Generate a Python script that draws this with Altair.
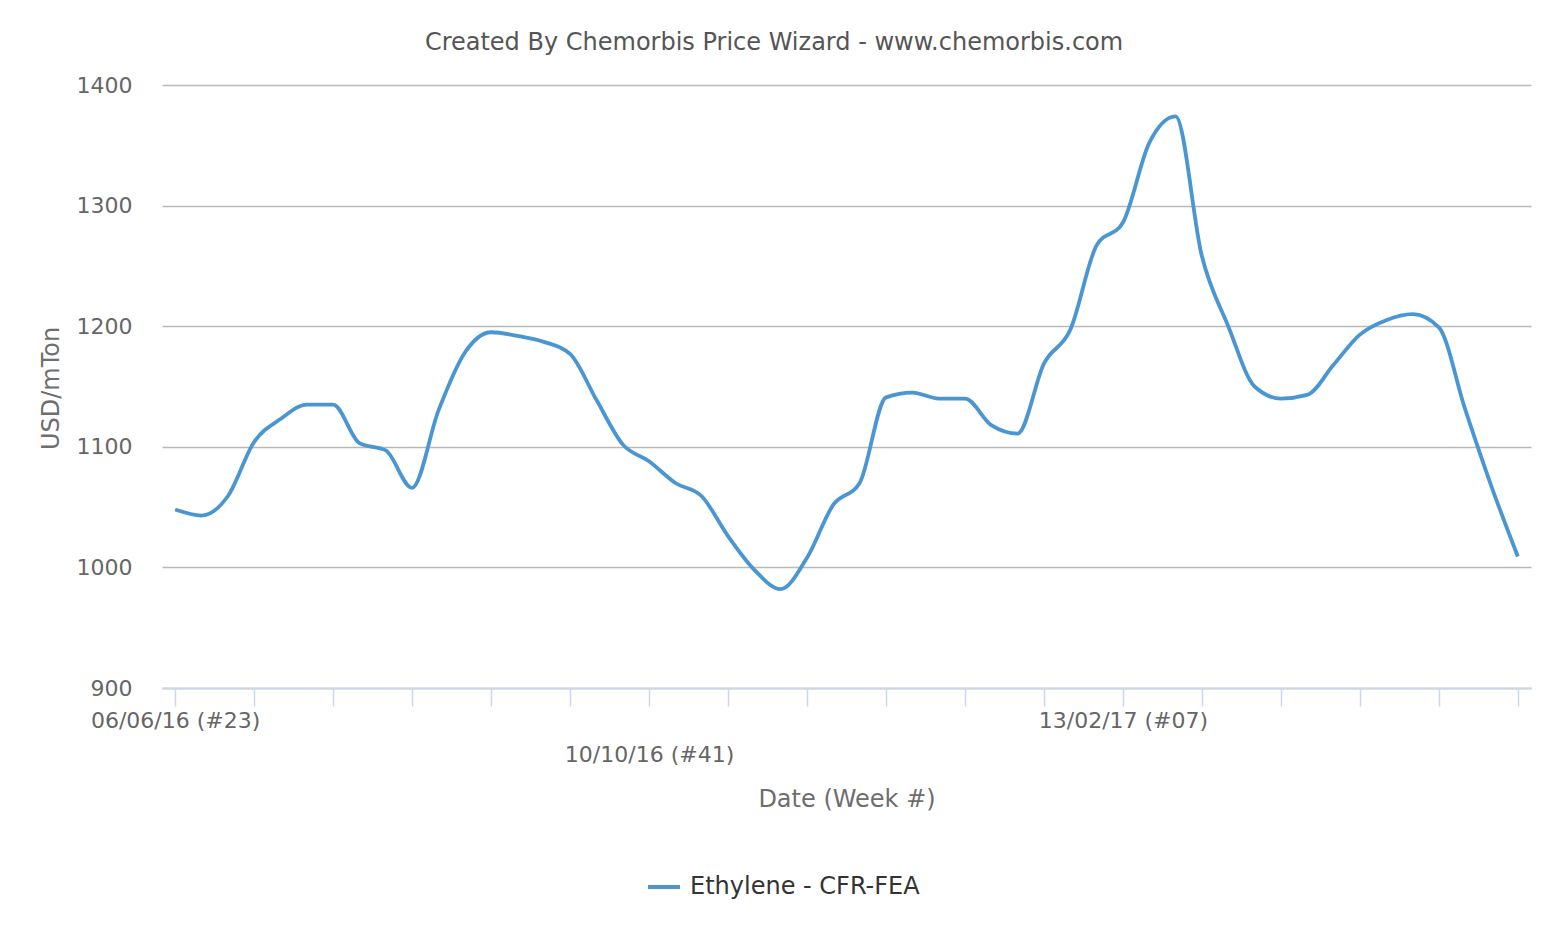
import altair as alt
import pandas as pd

# ---- data ----
series_name = "Ethylene - CFR-FEA"
week_index = list(range(52))  # weekly points starting 06/06/16 (#23)
prices = [1048, 1043, 1059, 1104, 1123, 1135, 1135, 1103, 1097, 1066,
          1130, 1178, 1195, 1192, 1187, 1177, 1139, 1102, 1088, 1070,
          1059, 1026, 998, 982, 1008, 1052, 1070, 1141, 1145, 1140,
          1140, 1118, 1111, 1169, 1197, 1267, 1286, 1352, 1374, 1258,
          1200, 1150, 1140, 1143, 1168, 1193, 1205, 1210, 1199, 1131,
          1067, 1009]
tick_weeks = list(range(0, 52, 3))
label_weeks = [0, 18, 36]
label_texts = ["06/06/16 (#23)", "10/10/16 (#41)", "13/02/17 (#07)"]
label_second_row = [False, True, False]
y_ticks = [900, 1000, 1100, 1200, 1300, 1400]
chart_title = "Created By Chemorbis Price Wizard - www.chemorbis.com"

df = pd.DataFrame({"week": week_index, "price": prices, "series": series_name})

# label expression built from the label lists
expr = "''"
for w, t, second in reversed(list(zip(label_weeks, label_texts, label_second_row))):
    lab = f"['', '{t}']" if second else f"'{t}'"
    expr = f"datum.value == {w} ? {lab} : ({expr})"

FONT = "DejaVu Sans"
LINE_COLOR = "#4a96d2"

W, H = 1369, 603

line = alt.Chart(df).mark_line(
    interpolate="monotone", strokeWidth=3.8
).encode(
    x=alt.X("week:Q",
            scale=alt.Scale(domain=[-0.5, 51.5], nice=False, zero=False),
            axis=alt.Axis(values=tick_weeks, labelExpr=expr, grid=False,
                          tickSize=18, tickColor="#ccd6eb", tickWidth=1.5,
                          domainColor="#ccd6eb", domainWidth=2,
                          labelFont=FONT, labelFontSize=22, labelColor="#666666",
                          labelPadding=4, labelLineHeight=34,
                          labelOverlap=False, labelFlush=False, labelBound=False,
                          title="Date (Week #)", titleFont=FONT, titleFontSize=24,
                          titleFontWeight="normal", titleColor="#6e6e6e",
                          titleY=118, titleBaseline="alphabetic")),
    y=alt.Y("price:Q",
            scale=alt.Scale(domain=[900, 1400], nice=False, zero=False),
            axis=alt.Axis(values=y_ticks, format="d", grid=True, gridColor="#b9b9b9",
                          gridWidth=1.6, domain=False, ticks=False, tickSize=0,
                          labelFont=FONT, labelFontSize=22, labelColor="#666666",
                          labelPadding=30,
                          title="USD/mTon", titleFont=FONT, titleFontSize=24,
                          titleFontWeight="normal", titleColor="#6e6e6e",
                          titleX=-104, titleY=303, titleAngle=270,
                          titleAlign="center", titleBaseline="alphabetic")),
    color=alt.Color("series:N",
                    scale=alt.Scale(range=[LINE_COLOR]),
                    legend=alt.Legend(orient="none", legendX=484, legendY=784,
                                      title=None, symbolType="stroke",
                                      symbolSize=1024, symbolStrokeWidth=4,
                                      padding=0, labelOffset=8, labelLimit=0,
                                      labelFont=FONT, labelFontSize=24,
                                      labelColor="#333333")),
)

title_df = pd.DataFrame({"t": [chart_title]})
title = alt.Chart(title_df).mark_text(
    font=FONT, fontSize=24, color="#555555", align="center", baseline="middle"
).encode(text="t:N", x=alt.value(612), y=alt.value(-42))

chart = alt.layer(line, title).properties(
    width=W, height=H,
    autosize=alt.AutoSizeParams(type="none"),
    padding={"left": 154, "top": 77, "right": 13, "bottom": 234},
    background="white",
).configure_view(stroke=None)

chart.save("out.html", embed_options={"renderer": "svg", "actions": False})
